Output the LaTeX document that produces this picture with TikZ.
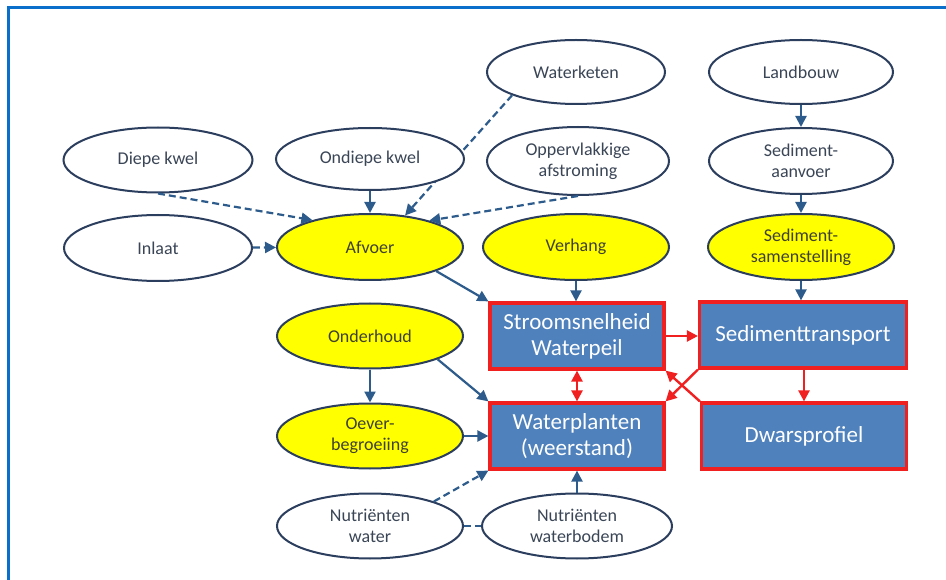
\documentclass[tikz,border=0pt]{standalone}
\usepackage{fontspec}
\setmainfont{Carlito}
\usetikzlibrary{shapes.geometric,arrows.meta}
\definecolor{frameblue}{HTML}{0A6FCB}
\definecolor{ellc}{HTML}{2C3E5E}
\definecolor{arrblue}{HTML}{2D5B8C}
\definecolor{boxfill}{HTML}{4F81BD}
\definecolor{redc}{HTML}{F02020}
\definecolor{txt}{HTML}{3A4556}
\definecolor{ytxt}{HTML}{3F4030}
\definecolor{yel}{HTML}{FFFF00}
\tikzset{
  oval/.style={shape=ellipse,draw=ellc,line width=2,fill=white,minimum width=186,minimum height=66,inner sep=0,
    font=\fontsize{18}{21}\selectfont,text=txt,align=center},
  yoval/.style={oval,fill=yel,text=ytxt},
  rbox/.style={draw=redc,line width=3.2,fill=boxfill,minimum width=174,minimum height=66,inner sep=0,
    font=\fontsize{23}{26}\selectfont,text=white,align=center},
  barr/.style={draw=arrblue,line width=2.2,-{Triangle[length=11,width=11]}},
  darr/.style={barr,dash pattern=on 7 off 4},
  rarr/.style={draw=redc,line width=2.4,-{Triangle[length=11,width=11]}},
}
\begin{document}
\begin{tikzpicture}[x=1pt,y=-1pt]
\useasboundingbox (0,0) rectangle (946,580);
\fill[white] (0,0) rectangle (946,580);
\draw[frameblue,line width=3] (8,582) -- (8,8) -- (948,8);
\node[oval,minimum width=178,minimum height=64] (wk) at (576,72) {Waterketen};
\node[oval,minimum width=184,minimum height=64] (lb) at (801,72) {Landbouw};
\node[yoval] (afv) at (370,247) {Afvoer};
% dashed line from Waterketen passes behind Ondiepe kwel: drawn before it
\draw[darr] (wk.200) -- (afv.42);
\node[oval,minimum width=189,minimum height=65] (dk) at (158,160) {Diepe kwel};
\node[oval,minimum width=188,minimum height=62] (ok) at (370,159) {Ondiepe kwel};
\node[oval,minimum width=182,minimum height=68] (opp) at (578,161) {Oppervlakkige\\afstroming};
\node[oval,minimum width=184,minimum height=66] (sa) at (801,161) {Sediment-\\aanvoer};
\node[oval,minimum width=188,minimum height=66] (inl) at (158,248) {Inlaat};
\node[yoval] (vh) at (576,247) {Verhang};
\node[yoval] (ss) at (801,247) {Sediment-\\samenstelling};
\node[yoval,minimum height=65] (oh) at (370,336) {Onderhoud};
\node[yoval,minimum height=65] (oev) at (370,436) {Oever-\\begroeiing};
\node[oval,minimum width=186,minimum height=65] (nw) at (370,526) {Nutriënten\\water};
\node[oval,minimum width=190,minimum height=65] (nwb) at (577,526) {Nutriënten\\waterbodem};
\node[rbox] (str) at (577,336) {Stroomsnelheid\\Waterpeil};
\node[rbox,minimum width=207] (st) at (803,335) {Sedimenttransport};
\node[rbox] (wp) at (577,436) {Waterplanten\\(weerstand)};
\node[rbox,minimum width=205] (dw) at (804,436) {Dwarsprofiel};
% blue connectors
\draw[barr] (lb) -- (sa);
\draw[barr] (sa) -- (ss);
\draw[barr] (ss.south) -- (ss.south |- st.north);
\draw[darr] (dk.south) -- (afv.155);
\draw[barr] (ok.south) -- (afv.north);
\draw[darr] (opp.south) -- (afv.24);
\draw[darr] (inl) -- (afv);
\draw[barr] (afv.-20) -- (str.north west);
\draw[barr] (vh.south) -- (vh.south |- str.north);
\draw[barr] (oh) -- (oev);
\draw[barr] (oh.-19) -- (wp.north west);
\draw[barr] (oev.east) -- (oev.east -| wp.west);
\draw[darr] (nw.21) -- (wp.south west);
\draw[draw=arrblue,line width=2.2,dash pattern=on 7 off 4] (nw) -- (nwb);
\draw[barr] (nwb.north) -- (nwb.north |- wp.south);
% red connectors
\draw[rarr,{Triangle[length=11,width=11]}-{Triangle[length=11,width=11]}] (str.south) -- (wp.north);
\draw[rarr] (str.east) -- (str.east -| st.west);
\draw[rarr] (st.south -| dw.north) -- (dw.north);
\draw[rarr] (st.south west) -- (wp.north east);
\draw[rarr] (dw.north west) -- (str.south east);
\end{tikzpicture}
\end{document}
